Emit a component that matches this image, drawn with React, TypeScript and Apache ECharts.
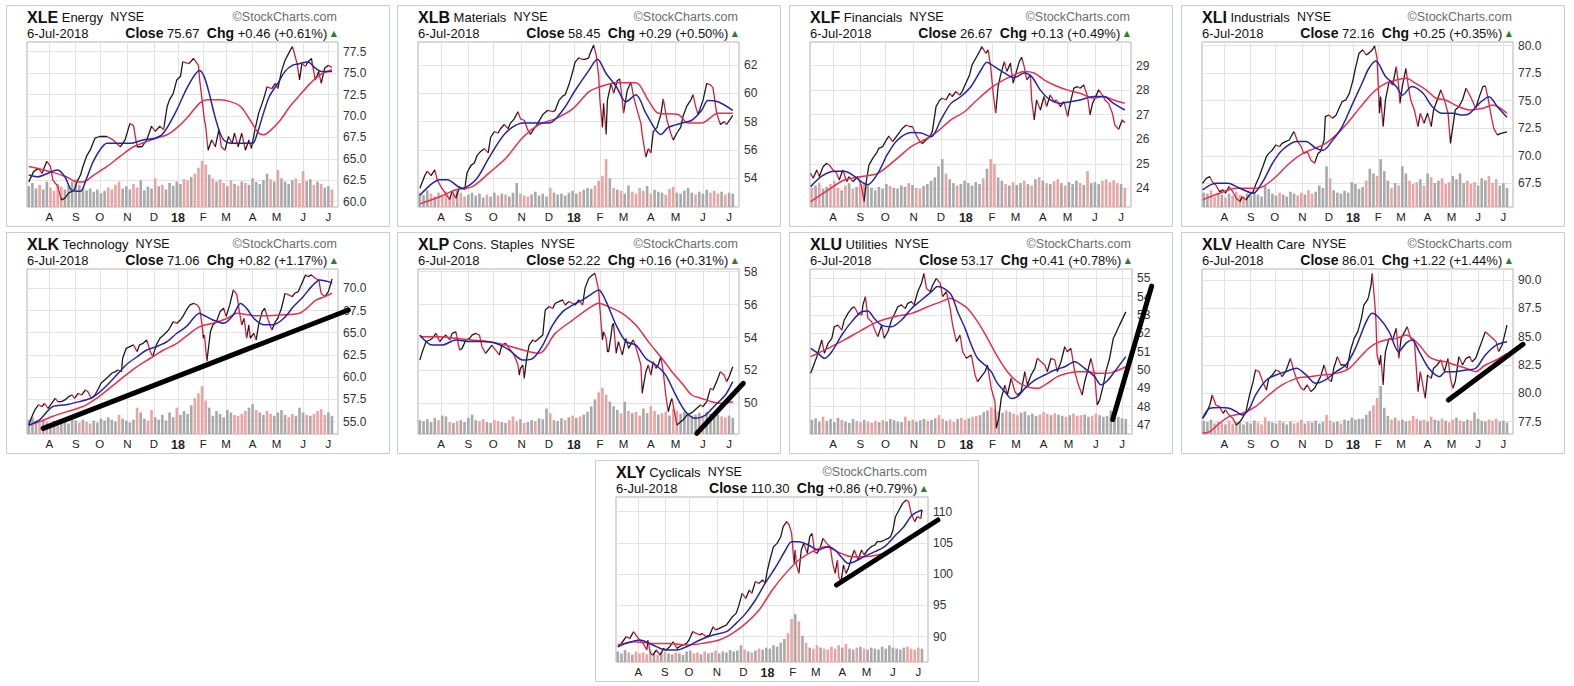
import React, { useEffect, useRef } from "react";
import * as echarts from "echarts";

type Pt = [number, number];

// ---- x axis: trading-day index (0 = 7-Jul-2017, 252 = 6-Jul-2018) ----
const MONTH_DAYS = [17, 39, 59, 82, 104, 124, 145, 164, 186, 206, 228, 249];
const MONTH_LABELS = ["A", "S", "O", "N", "D", "18", "F", "M", "A", "M", "J", "J"];
const VOL_STEP = 3; // volume sampled every 3 trading days

// ---------------- XLE ----------------
const XLE_PRICE: Pt[] = [[0,62.3],[4,63.5],[8,63.9],[11,63.3],[15,64.7],[18,64.1],[20,62.5],[24,61.8],[27,60.2],[30,60.4],[33,61.0],[36,61.2],[38,61.4],[40,62.3],[43,63.1],[45,64.1],[48,65.3],[51,66.0],[55,67.4],[59,67.6],[65,67.6],[70,67.2],[76,66.4],[80,67.2],[84,69.1],[87,68.9],[90,66.4],[94,66.4],[98,67.2],[102,68.8],[105,68.2],[109,68.8],[112,68.4],[115,71.1],[117,71.9],[120,72.6],[123,74.2],[126,74.6],[128,76.3],[133,76.1],[137,76.7],[141,75.9],[142,74.2],[144,71.9],[146,69.5],[147,68.8],[149,66.0],[152,67.2],[155,66.4],[158,68.4],[160,66.4],[163,66.0],[166,67.6],[169,66.8],[171,68.0],[174,66.4],[177,68.0],[180,66.0],[183,67.2],[185,66.2],[188,68.4],[191,70.3],[195,71.9],[198,73.4],[202,73.2],[205,73.8],[207,73.2],[210,75.2],[213,76.5],[216,77.3],[219,78.1],[220,77.7],[223,76.1],[225,74.2],[227,76.1],[230,75.8],[232,76.3],[235,76.7],[238,74.2],[241,75.2],[243,73.8],[246,75.6],[249,75.9],[252,75.67]];
const XLE_MA20: Pt[] = [[0,63.1],[7,62.9],[24,63.7],[30,62.9],[35,61.4],[40,61.2],[43,61.2],[48,62.7],[53,64.5],[59,66.0],[65,66.8],[75,66.8],[84,66.8],[95,67.2],[105,67.4],[112,68.0],[123,70.7],[132,73.4],[142,75.3],[146,74.5],[150,72.6],[154,70.3],[158,68.4],[162,67.2],[170,66.8],[180,66.8],[186,66.8],[190,68.0],[195,70.3],[200,72.3],[207,73.8],[213,75.2],[219,75.9],[225,76.1],[232,76.3],[238,75.6],[243,75.2],[252,75.2]];
const XLE_MA50: Pt[] = [[0,64.1],[18,63.5],[31,62.9],[40,62.3],[45,62.3],[54,63.1],[65,64.1],[76,65.3],[87,66.4],[98,67.0],[106,67.4],[115,67.8],[123,68.6],[131,69.7],[142,71.5],[148,71.9],[159,71.9],[167,71.7],[176,71.1],[184,69.5],[191,68.0],[195,67.8],[200,68.2],[209,69.5],[217,71.1],[225,72.4],[234,73.8],[242,74.8],[252,75.4]];
const XLE_VOL = [45,52,40,48,38,55,42,35,50,44,38,46,55,60,48,42,36,40,33,38,30,35,42,38,48,55,40,45,38,50,42,58,36,44,40,62,45,48,38,52,46,55,50,60,58,65,72,85,100,92,70,62,55,60,52,45,58,50,46,55,52,48,62,54,50,58,72,60,55,80,62,55,50,58,62,52,78,56,60,48,55,50,42,45,38];
const XLE_RANGE = [59.37, 78.63];
const XLE_TICKS = [60, 62.5, 65, 67.5, 70, 72.5, 75, 77.5];

// ---------------- XLB ----------------
const XLB_PRICE: Pt[] = [[0,53.3],[4,54.2],[6,54.5],[9,54.2],[12,54.6],[14,53.9],[17,53.4],[21,52.9],[24,52.5],[26,53.1],[29,52.6],[32,53.4],[36,53.2],[38,54.4],[41,54.9],[44,55.1],[46,55.6],[49,55.9],[52,56.1],[55,55.8],[57,56.9],[60,57.3],[63,57.2],[65,57.5],[68,57.8],[71,57.5],[73,57.9],[76,58.2],[79,58.7],[81,58.2],[84,58.1],[87,57.4],[89,57.1],[92,57.5],[95,57.9],[99,58.5],[103,58.8],[107,58.7],[109,58.8],[112,59.5],[115,59.8],[117,59.9],[120,60.6],[123,61.5],[125,62.2],[128,62.5],[131,62.4],[133,62.4],[136,62.5],[137,62.8],[140,63.4],[142,62.7],[144,61.2],[145,59.5],[147,57.6],[148,59.3],[150,57.1],[151,59.5],[154,60.7],[156,60.0],[159,60.9],[161,61.0],[163,59.5],[164,58.6],[167,60.2],[170,60.8],[172,59.8],[175,58.8],[178,57.9],[179,57.1],[182,55.5],[184,56.1],[186,55.8],[188,57.3],[191,57.6],[194,58.5],[196,59.6],[199,58.1],[202,57.2],[204,56.7],[207,57.2],[210,57.6],[212,58.4],[215,59.1],[218,59.5],[220,59.9],[222,59.1],[224,58.5],[228,59.5],[231,60.7],[234,60.6],[236,60.4],[239,58.6],[242,57.8],[245,58.0],[247,57.8],[252,58.45]];
const XLB_MA20: Pt[] = [[0,52.8],[16,53.9],[22,53.9],[34,53.3],[45,53.9],[56,55.5],[69,57.2],[83,57.9],[93,57.9],[104,57.9],[115,58.8],[125,60.2],[136,61.6],[143,62.4],[150,61.4],[158,60.5],[166,59.4],[174,59.9],[182,58.6],[190,57.4],[194,57.1],[200,57.6],[211,57.9],[219,58.1],[227,58.8],[232,59.5],[240,59.4],[252,58.8]];
const XLB_MA50: Pt[] = [[0,52.2],[16,52.7],[29,53.2],[42,53.4],[56,54.4],[69,55.4],[83,56.9],[96,57.8],[109,58.2],[123,58.9],[136,60.1],[143,60.4],[158,60.75],[174,60.75],[184,59.5],[192,58.6],[208,58.5],[216,57.9],[227,57.9],[240,58.6],[252,58.6]];
const XLB_VOL = [30,25,35,28,22,30,26,32,24,28,35,30,22,26,30,24,28,20,26,22,30,24,28,26,22,30,50,28,24,22,26,32,24,28,22,40,30,26,28,24,30,34,28,32,36,40,38,45,55,65,100,60,40,36,34,28,45,32,28,40,34,44,28,36,32,30,26,38,42,30,28,34,40,30,26,32,28,36,30,34,28,32,26,30,28];
const XLB_RANGE = [51.98, 63.62];
const XLB_TICKS = [54, 56, 58, 60, 62];

// ---------------- XLF ----------------
const XLF_PRICE: Pt[] = [[-1,24.61],[1,24.41],[4,24.75],[6,24.48],[9,24.88],[12,25.02],[14,24.95],[17,24.75],[20,24.61],[22,24.34],[25,24.75],[28,24.27],[30,24.48],[33,24.27],[37,24.48],[40,24.07],[42,23.46],[44,24.34],[46,24.95],[49,25.22],[52,25.43],[54,25.63],[57,25.7],[60,25.97],[62,26.13],[65,25.9],[68,26.11],[71,26.31],[73,26.45],[76,26.58],[79,26.51],[81,26.51],[84,26.17],[87,25.9],[89,25.83],[92,25.97],[95,26.11],[97,26.31],[100,27.33],[103,27.6],[105,27.67],[108,27.6],[111,27.87],[113,27.74],[116,27.94],[119,27.8],[121,27.94],[124,28.28],[127,28.62],[129,29.03],[132,29.3],[135,29.57],[137,29.77],[140,29.5],[142,29.64],[144,28.96],[146,27.87],[148,27.06],[150,28.14],[152,28.62],[155,29.16],[157,28.76],[160,29.1],[162,28.28],[164,28.62],[167,29.16],[169,29.34],[171,28.96],[173,28.42],[176,28.62],[177,27.6],[179,26.79],[181,27.6],[184,27.19],[187,27.74],[189,27.33],[192,27.8],[195,27.53],[197,27.6],[200,27.33],[203,27.53],[206,26.92],[208,27.46],[211,28.08],[214,28.14],[216,28.08],[219,28.21],[222,27.74],[224,26.99],[226,27.46],[228,27.67],[231,28.01],[234,27.8],[236,27.6],[239,27.46],[242,27.06],[244,26.58],[247,26.4],[250,26.79],[252,26.67]];
const XLF_MA20: Pt[] = [[-1,24.07],[8,24.5],[18,24.7],[26,24.7],[42,24.2],[45,24.15],[53,24.6],[61,25.4],[69,25.97],[80,26.27],[88,26.25],[96,26.1],[104,26.8],[112,27.46],[120,27.74],[128,28.14],[136,28.8],[141,29.14],[147,28.96],[155,28.7],[163,28.5],[171,28.7],[177,28.55],[184,28.0],[192,27.6],[200,27.46],[208,27.53],[216,27.6],[227,27.74],[235,27.74],[243,27.46],[252,27.19]];
const XLF_MA50: Pt[] = [[-1,23.46],[13,23.93],[26,24.34],[40,24.48],[53,24.61],[67,25.15],[80,25.7],[93,26.04],[101,26.31],[112,26.79],[123,27.12],[133,27.6],[144,28.08],[152,28.35],[160,28.55],[171,28.76],[179,28.7],[187,28.42],[195,28.21],[206,28.0],[216,27.87],[227,27.67],[235,27.74],[243,27.6],[252,27.46]];
const XLF_VOL = [40,45,50,38,42,48,55,40,35,45,50,38,42,48,52,45,40,35,42,38,48,44,40,38,45,42,50,46,40,38,44,48,55,62,85,100,70,58,50,45,48,55,50,45,52,48,60,80,100,90,62,55,48,45,52,46,50,55,48,45,58,62,55,50,48,54,58,50,45,52,48,55,50,46,75,50,52,48,55,58,52,56,50,48,40];
const XLF_RANGE = [23.24, 29.96];
const XLF_TICKS = [24, 25, 26, 27, 28, 29];

// ---------------- XLI ----------------
const XLI_PRICE: Pt[] = [[-1,67.5],[2,67.95],[5,68.1],[7,67.65],[10,67.35],[13,66.74],[16,66.9],[18,66.6],[21,67.2],[24,66.74],[27,66.14],[30,65.84],[32,66.29],[35,65.99],[38,66.44],[41,66.74],[43,67.35],[46,68.1],[49,69.0],[52,69.92],[54,70.22],[57,70.53],[60,70.98],[63,70.83],[65,71.13],[68,71.28],[71,71.43],[74,72.04],[75,72.19],[78,71.28],[81,70.83],[83,70.22],[86,70.38],[89,69.62],[92,69.32],[95,70.22],[97,70.38],[100,71.43],[101,73.55],[104,73.7],[107,73.4],[110,73.7],[113,74.46],[115,74.92],[118,75.07],[121,75.67],[124,76.88],[126,77.94],[129,79.3],[132,79.61],[135,79.15],[137,79.3],[140,79.61],[142,79.97],[144,78.85],[145,76.28],[146,73.86],[147,75.37],[149,72.65],[151,75.07],[154,76.73],[157,76.43],[160,78.09],[162,76.28],[163,74.76],[165,76.28],[168,77.94],[170,76.28],[172,75.07],[175,74.16],[178,72.65],[180,73.86],[183,72.95],[186,73.86],[189,72.65],[191,74.16],[194,75.07],[197,75.97],[200,75.07],[203,73.86],[205,71.13],[207,72.65],[209,74.16],[212,74.46],[215,75.07],[218,76.13],[221,75.52],[223,75.07],[226,74.31],[229,75.37],[232,76.28],[234,76.34],[236,75.37],[239,73.55],[241,72.49],[244,71.89],[247,72.04],[252,72.16]];
const XLI_MA20: Pt[] = [[-1,66.9],[10,67.5],[20,67.5],[30,67.05],[41,66.6],[49,67.65],[57,69.3],[65,70.5],[77,71.3],[85,71.3],[93,70.7],[99,70.5],[107,71.4],[115,72.65],[124,74.8],[132,76.7],[137,77.9],[143,78.6],[151,77.2],[160,76.3],[165,75.5],[173,76.3],[182,75.7],[190,74.46],[198,73.86],[207,73.86],[215,73.7],[221,73.86],[229,74.76],[237,75.37],[244,74.46],[252,73.5]];
const XLI_MA50: Pt[] = [[-1,66.0],[13,66.6],[27,67.05],[41,67.05],[49,67.2],[60,68.1],[71,69.3],[82,70.2],[93,70.7],[101,71.1],[110,71.9],[118,72.8],[126,73.86],[135,75.07],[143,75.97],[151,76.58],[160,76.88],[168,77.03],[176,76.58],[185,75.97],[193,75.22],[201,75.07],[209,74.6],[221,74.16],[232,74.31],[240,74.6],[252,73.86]];
const XLI_VOL = [30,28,35,22,30,26,20,28,24,32,26,22,28,24,30,26,22,45,38,28,24,30,26,22,32,28,24,30,26,35,28,32,45,40,85,60,35,30,28,34,30,52,48,38,42,55,80,70,65,100,75,55,40,50,45,85,70,55,48,52,58,45,70,62,50,55,60,48,52,65,58,70,50,55,48,52,45,60,56,65,50,58,45,50,40];
const XLI_RANGE = [65.35, 80.33];
const XLI_TICKS = [67.5, 70, 72.5, 75, 77.5, 80];

// ---------------- XLK ----------------
const XLK_PRICE: Pt[] = [[0,54.63],[2,55.38],[5,56.31],[8,56.88],[11,56.69],[13,57.06],[16,56.5],[19,57.06],[22,57.63],[24,57.25],[27,57.25],[30,57.44],[33,57.81],[36,58.0],[38,57.63],[41,58.19],[44,58.0],[47,58.56],[49,58.38],[52,57.63],[55,58.0],[58,58.75],[60,59.31],[63,59.69],[66,60.06],[69,60.44],[72,60.63],[74,60.81],[77,60.63],[78,62.13],[81,63.25],[84,63.44],[87,63.63],[90,62.88],[92,63.63],[95,63.81],[98,64.19],[101,62.88],[103,62.31],[106,63.63],[109,64.38],[112,64.75],[115,65.13],[117,65.5],[120,66.25],[123,66.06],[126,66.44],[128,66.81],[131,67.56],[134,68.13],[137,68.31],[140,68.13],[142,67.75],[144,65.88],[145,64.38],[146,64.75],[148,61.8],[151,65.13],[153,65.88],[156,66.25],[159,67.38],[162,67.75],[164,66.81],[167,68.13],[170,69.81],[173,69.25],[175,67.38],[177,65.88],[179,66.63],[181,64.38],[183,65.88],[184,64.38],[187,64.94],[189,64.19],[191,65.88],[194,67.38],[196,67.75],[199,66.44],[202,65.31],[205,66.25],[207,66.63],[210,67.75],[213,69.44],[216,69.25],[219,69.06],[221,69.44],[224,69.63],[227,70.56],[230,71.5],[232,71.31],[235,71.5],[238,71.13],[241,70.94],[243,69.44],[246,69.06],[249,69.63],[251,70.56],[252,71.06]];
const XLK_MA20: Pt[] = [[0,54.6],[9,55.2],[15,56.1],[20,56.7],[31,56.9],[42,57.25],[51,57.6],[56,58.0],[65,59.1],[73,60.25],[81,61.4],[90,62.3],[98,63.06],[106,63.44],[115,64.0],[123,64.94],[131,65.7],[142,67.2],[145,67.0],[153,66.44],[162,66.06],[170,67.0],[176,68.3],[181,67.75],[187,66.63],[195,65.9],[203,65.9],[212,66.63],[220,67.94],[228,69.06],[235,70.19],[242,70.94],[249,70.75],[252,70.56]];
const XLK_MA50: Pt[] = [[0,54.6],[9,55.0],[20,55.6],[31,56.1],[45,56.7],[56,57.6],[67,58.75],[79,60.06],[90,61.19],[101,62.13],[112,63.06],[123,63.81],[134,64.94],[142,65.69],[153,66.06],[165,66.63],[173,67.19],[189,66.9],[209,67.0],[225,67.19],[231,67.75],[239,68.69],[246,69.06],[252,69.44]];
const XLK_VOL = [30,35,28,24,30,26,22,28,25,30,26,22,35,28,24,30,25,22,28,24,32,28,35,30,26,40,32,28,24,30,55,45,32,28,50,35,30,40,28,45,35,55,40,48,42,60,75,85,100,70,55,38,48,42,35,50,45,40,38,42,48,55,62,50,45,40,48,42,38,45,50,40,35,42,38,55,45,40,38,42,48,52,40,45,38];
const XLK_TREND: Pt[] = [[12,54.25],[265.6,67.56]];
const XLK_RANGE = [53.61, 72.17];
const XLK_TICKS = [55, 57.5, 60, 62.5, 65, 67.5, 70];

// ---------------- XLP ----------------
const XLP_PRICE: Pt[] = [[0,52.63],[2,53.14],[5,53.75],[8,53.85],[10,53.95],[13,54.25],[16,53.75],[18,53.95],[21,54.15],[24,53.85],[26,54.25],[29,54.35],[32,53.24],[34,53.34],[37,53.85],[40,53.95],[42,54.15],[45,54.25],[48,54.15],[50,53.44],[53,53.04],[56,53.34],[58,53.54],[61,53.24],[64,52.94],[66,53.54],[69,53.65],[72,53.34],[75,53.04],[77,52.73],[79,52.33],[80,51.72],[81,52.13],[83,52.33],[84,51.52],[86,52.73],[88,53.54],[91,53.85],[93,53.75],[96,53.95],[99,54.15],[100,54.96],[101,55.67],[104,55.87],[107,55.77],[109,56.08],[112,56.18],[115,56.28],[117,55.97],[120,56.18],[123,56.08],[125,55.97],[128,56.28],[131,55.97],[133,56.99],[136,57.59],[139,57.8],[141,57.9],[144,56.89],[145,55.77],[147,53.85],[148,54.35],[150,53.95],[151,53.14],[152,53.14],[154,54.15],[155,54.76],[156,54.86],[158,53.04],[160,53.75],[163,52.94],[166,53.95],[168,53.34],[171,53.75],[172,53.85],[175,53.14],[178,52.33],[179,50.61],[182,51.92],[184,52.33],[186,51.72],[188,52.53],[190,52.13],[192,52.33],[194,52.84],[196,51.92],[198,50.51],[200,49.49],[202,50.1],[203,50.3],[205,49.49],[207,48.68],[210,48.89],[212,48.99],[215,49.29],[218,49.39],[220,49.49],[223,49.7],[226,49.9],[228,49.8],[231,50.1],[234,50.91],[236,50.81],[239,51.32],[242,51.92],[245,51.72],[247,51.32],[249,51.62],[252,52.22]];
const XLP_MA20: Pt[] = [[0,54.15],[10,53.54],[18,53.54],[29,53.85],[40,53.75],[50,53.75],[61,53.65],[72,53.24],[83,52.63],[91,52.73],[99,53.54],[107,54.76],[115,55.57],[123,55.97],[131,56.28],[139,56.68],[144,56.89],[150,56.18],[158,54.76],[166,53.75],[174,53.54],[182,52.73],[190,52.33],[198,51.72],[206,50.51],[214,49.49],[222,49.09],[230,49.29],[238,49.9],[246,50.51],[252,51.32]];
const XLP_MA50: Pt[] = [[0,54.05],[16,54.05],[29,53.95],[42,53.85],[56,53.75],[69,53.54],[83,53.24],[96,53.04],[109,54.25],[123,55.06],[136,55.77],[144,56.08],[152,55.87],[163,55.47],[174,54.76],[184,53.75],[195,52.73],[203,51.92],[211,51.22],[219,50.51],[227,50.3],[235,50.1],[243,50.0],[252,50.1]];
const XLP_VOL = [30,28,32,26,35,30,40,38,26,24,28,30,26,35,42,30,28,32,26,24,30,28,26,24,30,38,28,32,24,26,30,28,34,32,55,45,30,28,34,30,36,40,35,38,42,48,60,75,90,100,85,70,60,52,45,70,50,45,48,40,55,45,60,50,42,45,48,40,55,50,44,48,45,40,42,46,38,48,44,40,42,38,36,40,35];
const XLP_TREND: Pt[] = [[223,48.18],[260.5,51.22]];
const XLP_RANGE = [48.14, 58.16];
const XLP_TICKS = [50, 52, 54, 56, 58];

// ---------------- XLU ----------------
const XLU_PRICE: Pt[] = [[-1,49.82],[1,50.18],[4,50.73],[8,51.64],[10,50.91],[13,51.45],[16,51.73],[18,52.36],[21,52.45],[24,52.18],[26,52.73],[29,53.09],[32,53.36],[34,53.45],[37,53.09],[40,53.0],[41,53.55],[43,54.0],[45,52.82],[48,52.64],[50,52.27],[53,51.82],[56,52.45],[58,51.73],[61,52.09],[64,52.73],[66,53.0],[69,53.45],[72,53.55],[75,53.36],[77,53.64],[80,53.73],[82,53.55],[85,54.27],[88,54.73],[90,55.27],[92,54.45],[95,54.27],[97,54.64],[100,55.0],[103,54.73],[105,54.0],[108,54.27],[111,53.36],[113,52.45],[116,51.55],[119,51.91],[121,51.0],[124,50.64],[128,50.82],[131,49.73],[133,49.36],[136,49.64],[139,49.91],[141,50.27],[144,49.0],[147,48.27],[148,46.82],[150,47.36],[152,48.45],[155,49.18],[157,48.64],[160,49.55],[163,48.82],[165,48.64],[168,48.82],[171,49.91],[173,49.18],[176,49.73],[179,50.09],[181,50.64],[184,50.45],[187,50.27],[189,49.91],[192,50.64],[195,50.55],[197,49.91],[200,50.45],[203,51.27],[205,51.0],[208,51.18],[211,49.91],[214,49.18],[217,48.64],[219,49.36],[222,50.09],[224,50.64],[227,49.73],[229,48.09],[231,48.36],[234,49.18],[236,49.91],[239,50.64],[242,51.73],[244,52.0],[247,52.45],[252,53.17]];
const XLU_MA20: Pt[] = [[-1,51.18],[5,50.91],[10,50.64],[16,51.0],[24,51.91],[32,52.64],[40,53.18],[45,53.22],[50,52.82],[56,52.45],[64,52.36],[72,52.73],[80,53.36],[88,53.82],[96,54.27],[101,54.55],[106,54.45],[112,54.09],[117,53.18],[123,52.27],[128,51.36],[133,50.64],[139,50.27],[144,49.91],[149,49.27],[155,48.82],[160,48.45],[165,48.55],[171,49.0],[179,49.45],[187,49.73],[195,50.0],[203,50.18],[211,50.45],[219,50.09],[227,49.64],[232,49.2],[237,49.4],[243,49.91],[252,50.73]];
const XLU_MA50: Pt[] = [[-1,50.73],[13,51.18],[26,51.64],[40,52.18],[53,52.64],[66,52.91],[80,53.09],[93,53.45],[104,53.73],[111,53.91],[117,53.73],[125,53.36],[133,52.64],[141,51.73],[149,50.73],[157,49.91],[165,49.36],[173,49.09],[181,49.0],[189,49.27],[197,49.64],[205,49.82],[213,49.91],[221,49.91],[229,49.82],[237,49.82],[243,49.91],[252,50.18]];
const XLU_VOL = [45,50,40,55,42,48,38,52,45,40,35,48,42,38,45,40,36,42,38,45,40,48,44,40,38,55,42,46,40,44,48,42,45,50,60,48,42,46,40,48,52,45,50,55,58,60,70,75,85,80,72,68,75,70,65,60,68,72,60,65,58,62,70,64,60,66,62,58,55,60,65,58,60,62,55,58,65,60,55,58,75,60,55,50,48];
const XLU_TREND: Pt[] = [[241.5,47.3],[272.8,54.58]];
const XLU_RANGE = [46.51, 55.51];
const XLU_TICKS = [47, 48, 49, 50, 51, 52, 53, 54, 55];

// ---------------- XLV ----------------
const XLV_PRICE: Pt[] = [[-1,77.79],[2,78.24],[5,78.97],[7,79.85],[10,78.97],[13,78.82],[16,78.24],[18,78.53],[21,78.09],[24,77.79],[27,77.21],[30,77.5],[32,77.79],[35,78.38],[38,79.85],[41,81.03],[43,82.06],[46,81.91],[49,81.03],[52,80.29],[54,81.32],[57,81.62],[60,82.06],[63,81.91],[65,81.47],[68,81.91],[71,82.79],[72,83.09],[75,81.91],[78,81.03],[81,80.44],[83,80.29],[86,80.74],[89,80.15],[92,80.44],[95,81.03],[97,81.47],[100,82.5],[103,81.32],[106,81.03],[108,82.21],[111,83.24],[114,82.5],[117,82.5],[119,82.21],[122,83.82],[125,84.85],[128,85.44],[131,86.62],[133,87.79],[136,88.24],[137,88.53],[139,89.56],[140,90.59],[142,88.09],[143,86.62],[144,83.38],[146,82.5],[147,83.38],[149,80.74],[150,82.5],[151,83.68],[154,84.85],[157,84.71],[160,85.74],[162,83.09],[164,84.85],[167,85.44],[169,85.88],[172,84.85],[175,84.71],[178,80.15],[180,81.91],[182,80.74],[184,79.56],[186,81.62],[189,81.32],[191,82.21],[194,82.5],[197,82.94],[200,81.91],[203,83.09],[205,81.32],[207,80.44],[209,81.03],[212,83.24],[215,82.5],[218,83.09],[221,83.24],[223,82.79],[226,83.09],[229,83.97],[232,84.85],[234,85.44],[237,85.15],[240,84.85],[243,84.56],[245,83.68],[248,84.26],[252,86.01]];
const XLV_MA20: Pt[] = [[-1,77.79],[5,78.68],[13,78.74],[21,78.68],[27,78.38],[32,78.09],[38,78.68],[43,79.85],[52,81.18],[60,81.62],[68,81.91],[77,82.21],[85,81.62],[93,80.88],[101,81.18],[110,81.91],[118,82.5],[126,83.97],[135,86.32],[140,87.06],[146,86.62],[154,85.44],[162,83.68],[168,84.41],[173,84.71],[179,83.68],[187,82.21],[196,81.47],[201,81.91],[209,81.91],[218,82.06],[226,82.21],[234,83.38],[243,84.26],[252,84.56]];
const XLV_MA50: Pt[] = [[-1,76.47],[5,76.62],[13,77.35],[21,77.94],[32,78.24],[43,78.82],[54,79.85],[65,80.74],[77,81.32],[88,81.47],[99,81.62],[110,81.76],[121,82.21],[129,83.09],[137,83.97],[143,84.41],[151,84.71],[160,84.85],[168,85.15],[179,84.26],[187,83.24],[193,82.94],[201,82.79],[209,82.5],[218,82.21],[226,81.91],[234,82.5],[243,82.94],[252,83.53]];
const XLV_VOL = [28,25,30,22,26,24,20,28,22,26,24,20,25,22,28,24,20,35,26,24,22,28,24,20,26,22,24,30,22,26,24,28,22,25,40,28,24,26,22,30,28,34,30,32,32,40,48,60,75,100,55,38,30,34,28,30,26,28,38,32,28,30,26,36,30,28,32,28,24,30,34,28,26,30,28,45,32,28,26,30,28,32,26,28,24];
const XLV_TREND: Pt[] = [[203.3,79.41],[265.3,84.32]];
const XLV_RANGE = [76.41, 90.97];
const XLV_TICKS = [77.5, 80, 82.5, 85, 87.5, 90];

// ---------------- XLY ----------------
const XLY_PRICE: Pt[] = [[0,88.4],[2,88.67],[5,89.47],[7,90.0],[10,89.73],[13,90.8],[16,90.0],[18,89.47],[21,88.93],[24,87.87],[25,89.47],[27,87.33],[29,87.07],[32,87.87],[35,87.07],[38,88.13],[40,87.87],[43,88.4],[46,89.2],[49,88.13],[51,88.4],[54,88.67],[57,88.93],[59,89.47],[62,90.8],[65,90.53],[68,90.27],[70,90.53],[73,90.0],[76,90.27],[79,91.6],[81,91.07],[84,91.33],[87,91.6],[90,91.87],[92,92.4],[95,93.2],[98,93.73],[100,94.8],[103,96.93],[106,96.13],[109,97.47],[111,96.93],[114,98.8],[117,98.53],[120,99.07],[122,98.53],[124,100.67],[126,102.27],[129,104.4],[132,104.93],[135,106.0],[137,107.6],[140,108.4],[142,107.87],[144,106.53],[146,101.73],[147,103.87],[148,101.47],[150,100.13],[152,103.87],[154,104.93],[157,103.33],[159,106.0],[161,106.53],[163,103.6],[165,103.33],[168,104.4],[170,105.73],[173,104.93],[176,104.4],[178,101.73],[180,100.13],[182,102.27],[183,99.6],[185,98.8],[187,101.47],[189,100.13],[191,100.93],[194,102.8],[196,103.87],[199,102.27],[202,103.87],[204,103.07],[207,103.87],[210,104.4],[213,104.67],[215,105.2],[218,105.2],[221,105.47],[224,105.73],[226,106.0],[228,107.07],[230,109.2],[233,110.27],[236,111.33],[239,111.87],[241,111.6],[243,109.73],[246,108.4],[248,109.2],[251,108.93],[252,110.3]];
const XLY_MA20: Pt[] = [[0,88.4],[7,88.93],[18,89.47],[29,88.67],[40,87.87],[49,87.87],[57,88.4],[68,89.47],[79,90.27],[90,90.8],[98,92.13],[106,93.73],[114,95.87],[122,98.53],[131,101.2],[139,103.87],[144,105.2],[150,105.2],[158,104.67],[166,103.87],[174,104.4],[180,103.87],[185,102.8],[191,101.73],[196,102.0],[204,102.8],[213,103.6],[221,104.4],[229,106.0],[237,107.6],[244,109.47],[252,110.27]];
const XLY_MA50: Pt[] = [[0,88.67],[13,89.2],[29,88.93],[43,88.93],[57,88.67],[70,88.93],[84,89.47],[95,90.53],[106,92.13],[117,94.27],[128,97.47],[139,100.13],[150,102.27],[161,103.6],[172,104.4],[185,103.33],[194,102.8],[204,102.8],[215,103.07],[224,103.6],[232,104.4],[240,105.73],[252,106.8]];
const XLY_VOL = [22,18,25,20,15,22,18,20,16,24,18,15,20,22,18,16,20,18,15,22,24,18,20,16,22,18,20,24,18,22,20,25,22,24,35,26,22,20,24,28,26,30,28,35,32,40,48,60,90,100,85,55,40,30,28,35,30,28,26,32,28,35,30,38,28,26,30,32,28,26,30,28,26,32,28,35,30,28,26,30,32,28,26,30,28];
const XLY_TREND: Pt[] = [[181.2,98.27],[265.2,108.67]];
const XLY_RANGE = [85.95, 112.35];
const XLY_TICKS = [90, 95, 100, 105, 110];

// ---------------- panel definitions ----------------
const PANELS = [
  { sym: "XLE", name: "Energy", close: "75.67", chg: "+0.46", pct: "(+0.61%)", price: XLE_PRICE, ma20: XLE_MA20, ma50: XLE_MA50, vol: XLE_VOL, trend: null, range: XLE_RANGE, ticks: XLE_TICKS, dec: 1, volShare: 0.28 },
  { sym: "XLB", name: "Materials", close: "58.45", chg: "+0.29", pct: "(+0.50%)", price: XLB_PRICE, ma20: XLB_MA20, ma50: XLB_MA50, vol: XLB_VOL, trend: null, range: XLB_RANGE, ticks: XLB_TICKS, dec: 0, volShare: 0.29 },
  { sym: "XLF", name: "Financials", close: "26.67", chg: "+0.13", pct: "(+0.49%)", price: XLF_PRICE, ma20: XLF_MA20, ma50: XLF_MA50, vol: XLF_VOL, trend: null, range: XLF_RANGE, ticks: XLF_TICKS, dec: 0, volShare: 0.29 },
  { sym: "XLI", name: "Industrials", close: "72.16", chg: "+0.25", pct: "(+0.35%)", price: XLI_PRICE, ma20: XLI_MA20, ma50: XLI_MA50, vol: XLI_VOL, trend: null, range: XLI_RANGE, ticks: XLI_TICKS, dec: 1, volShare: 0.29 },
  { sym: "XLK", name: "Technology", close: "71.06", chg: "+0.82", pct: "(+1.17%)", price: XLK_PRICE, ma20: XLK_MA20, ma50: XLK_MA50, vol: XLK_VOL, trend: XLK_TREND, range: XLK_RANGE, ticks: XLK_TICKS, dec: 1, volShare: 0.29 },
  { sym: "XLP", name: "Cons. Staples", close: "52.22", chg: "+0.16", pct: "(+0.31%)", price: XLP_PRICE, ma20: XLP_MA20, ma50: XLP_MA50, vol: XLP_VOL, trend: XLP_TREND, range: XLP_RANGE, ticks: XLP_TICKS, dec: 0, volShare: 0.28 },
  { sym: "XLU", name: "Utilities", close: "53.17", chg: "+0.41", pct: "(+0.78%)", price: XLU_PRICE, ma20: XLU_MA20, ma50: XLU_MA50, vol: XLU_VOL, trend: XLU_TREND, range: XLU_RANGE, ticks: XLU_TICKS, dec: 0, volShare: 0.19 },
  { sym: "XLV", name: "Health Care", close: "86.01", chg: "+1.22", pct: "(+1.44%)", price: XLV_PRICE, ma20: XLV_MA20, ma50: XLV_MA50, vol: XLV_VOL, trend: XLV_TREND, range: XLV_RANGE, ticks: XLV_TICKS, dec: 1, volShare: 0.29 },
  { sym: "XLY", name: "Cyclicals", close: "110.30", chg: "+0.86", pct: "(+0.79%)", price: XLY_PRICE, ma20: XLY_MA20, ma50: XLY_MA50, vol: XLY_VOL, trend: XLY_TREND, range: XLY_RANGE, ticks: XLY_TICKS, dec: 0, volShare: 0.29 },
];

// layout (pixels)
const LAYOUT = [
  { left: 6, top: 5, plotW: 311 },
  { left: 397, top: 5, plotW: 321 },
  { left: 789, top: 5, plotW: 321 },
  { left: 1181, top: 5, plotW: 311 },
  { left: 6, top: 232, plotW: 311 },
  { left: 397, top: 232, plotW: 321 },
  { left: 789, top: 232, plotW: 322 },
  { left: 1181, top: 232, plotW: 311 },
  { left: 595, top: 460, plotW: 312 },
];

const X_MIN = -1.5;
const X_MAX = 257;
const TREND_EXTRA_PX = 60; // overlay grid reaches past the plot so trendlines can overhang

const FF = "'Liberation Sans', Arial, Helvetica, sans-serif";
const PRICE_RED = "#d61f3d";
const PRICE_BLACK = "#1a1a1a";
const MA_BLUE = "#2424a6";
const MA_RED = "#e5304e";
const VOL_RED = "#eba4a4";
const VOL_GRAY = "#a9a9a9";

function isDown(pts: Pt[], d: number): boolean {
  for (let i = 0; i < pts.length - 1; i++) {
    if (d >= pts[i][0] && d <= pts[i + 1][0]) return pts[i + 1][1] < pts[i][1];
  }
  return false;
}

function downPieces(pts: Pt[]) {
  const pieces: any[] = [];
  let start: number | null = null;
  for (let i = 0; i < pts.length - 1; i++) {
    const down = pts[i + 1][1] < pts[i][1];
    if (down) {
      if (start === null) start = pts[i][0];
    } else if (start !== null) {
      pieces.push({ gte: start, lte: pts[i][0], color: PRICE_RED });
      start = null;
    }
  }
  if (start !== null) pieces.push({ gte: start, lte: pts[pts.length - 1][0], color: PRICE_RED });
  return pieces;
}

function buildOption() {
  const grid: any[] = [];
  const xAxis: any[] = [];
  const yAxis: any[] = [];
  const series: any[] = [];
  const visualMap: any[] = [];
  const graphic: any[] = [];

  PANELS.forEach((p, k) => {
    const L = LAYOUT[k];
    const gx = L.left + 21;
    const gy = L.top + 37;
    const gh = 165;
    const plotRight = gx + L.plotW;

    const gi = grid.length;
    grid.push({
      left: gx, top: gy, width: L.plotW, height: gh,
      show: true, borderColor: "#b3b3b3", borderWidth: 1, backgroundColor: "#ffffff",
      containLabel: false, outerBoundsMode: "none",
    });
    const xi = xAxis.length;
    xAxis.push({
      gridIndex: gi, type: "value", min: X_MIN, max: X_MAX,
      axisLine: { show: false },
      axisTick: { show: false, customValues: MONTH_DAYS },
      axisLabel: {
        customValues: MONTH_DAYS,
        margin: 4,
        fontSize: 11.5,
        color: "#222",
        fontFamily: FF,
        formatter: (v: number) => {
          const i = MONTH_DAYS.indexOf(Math.round(v));
          const s = i >= 0 ? MONTH_LABELS[i] : "";
          return s === "18" ? "{b|18}" : s;
        },
        rich: { b: { fontWeight: "bold", fontSize: 12.5, color: "#222", fontFamily: FF } },
      },
      splitLine: { show: true, lineStyle: { color: "#e3e3e3", width: 1 } },
    });
    const yi = yAxis.length;
    yAxis.push({
      gridIndex: gi, type: "value", position: "right",
      min: p.range[0], max: p.range[1],
      axisLine: { show: false },
      axisTick: { show: false, customValues: p.ticks },
      axisLabel: {
        customValues: p.ticks, margin: 5, fontSize: 12, color: "#333", fontFamily: FF,
        formatter: (v: number) => v.toFixed(p.dec),
      },
      splitLine: { show: true, lineStyle: { color: "#e3e3e3", width: 1 } },
    });
    const vi = yAxis.length;
    yAxis.push({
      gridIndex: gi, type: "value", min: 0, max: 100 / p.volShare, show: false,
      splitLine: { show: false },
    });

    const volData = p.vol
      .map((v, i) => ({ d: i * VOL_STEP, v }))
      .filter((o) => o.d <= 252)
      .map((o) => ({
        value: [o.d, o.v],
        itemStyle: { color: isDown(p.price, o.d) ? VOL_RED : VOL_GRAY },
      }));
    series.push({
      type: "bar", xAxisIndex: xi, yAxisIndex: vi, barWidth: 2.6,
      data: volData, silent: true, z: 1,
    });

    const priceIdx = series.length;
    series.push({
      type: "line", xAxisIndex: xi, yAxisIndex: yi, data: p.price,
      symbol: "none", silent: true, z: 3,
      lineStyle: { width: 1.3 },
    });
    visualMap.push({
      type: "piecewise", show: false, seriesIndex: priceIdx, dimension: 0,
      pieces: downPieces(p.price), outOfRange: { color: PRICE_BLACK },
    });

    series.push({
      type: "line", xAxisIndex: xi, yAxisIndex: yi, data: p.ma50,
      symbol: "none", silent: true, z: 4, smooth: 0.3,
      lineStyle: { width: 1.5, color: MA_RED }, itemStyle: { color: MA_RED },
    });
    series.push({
      type: "line", xAxisIndex: xi, yAxisIndex: yi, data: p.ma20,
      symbol: "none", silent: true, z: 5, smooth: 0.3,
      lineStyle: { width: 1.5, color: MA_BLUE }, itemStyle: { color: MA_BLUE },
    });

    if (p.trend) {
      // transparent overlay grid with the same scale, extended to the right
      const ow = L.plotW + TREND_EXTRA_PX;
      const oMax = X_MIN + (X_MAX - X_MIN) * ow / L.plotW;
      const og = grid.length;
      grid.push({ left: gx, top: gy, width: ow, height: gh, show: false, containLabel: false, outerBoundsMode: "none" });
      const ox = xAxis.length;
      xAxis.push({ gridIndex: og, type: "value", min: X_MIN, max: oMax, show: false, splitLine: { show: false } });
      const oy = yAxis.length;
      yAxis.push({ gridIndex: og, type: "value", min: p.range[0], max: p.range[1], show: false, splitLine: { show: false } });
      series.push({
        type: "line", xAxisIndex: ox, yAxisIndex: oy, data: p.trend,
        symbol: "none", silent: true, z: 10, clip: false,
        lineStyle: { width: 5, color: "#000", cap: "round" }, itemStyle: { color: "#000" },
      });
    }

    // panel frame
    graphic.push({
      type: "rect", silent: true, z: 0,
      shape: { x: L.left + 0.5, y: L.top + 0.5, width: 383, height: 221 },
      style: { fill: "transparent", stroke: "#c7ccd4", lineWidth: 1 },
    });
    // title line
    graphic.push({
      type: "text", silent: true, x: gx, y: L.top + 12, z: 20,
      style: {
        text: `{t|${p.sym}} {n|${p.name}}  {s|NYSE}`,
        align: "left", verticalAlign: "middle",
        font: `13px ${FF}`,
        rich: {
          t: { font: `bold 16px ${FF}`, fill: "#111" },
          n: { font: `13px ${FF}`, fill: "#111" },
          s: { font: `12.5px ${FF}`, fill: "#111" },
        },
      },
    });
    graphic.push({
      type: "text", silent: true, x: plotRight - 1, y: L.top + 12, z: 20,
      style: {
        text: "©StockCharts.com", font: `12.5px ${FF}`, fill: "#6c6c6c",
        align: "right", verticalAlign: "middle",
      },
    });
    // date / close line
    graphic.push({
      type: "text", silent: true, x: gx, y: L.top + 28, z: 20,
      style: {
        text: "6-Jul-2018", font: `13px ${FF}`, fill: "#111",
        align: "left", verticalAlign: "middle",
      },
    });
    graphic.push({
      type: "text", silent: true, x: plotRight - 1, y: L.top + 28, z: 20,
      style: {
        text: `{b|Close} {n|${p.close}}  {b|Chg} {n|${p.chg} ${p.pct}} {g|▲}`,
        align: "right", verticalAlign: "middle",
        font: `13px ${FF}`,
        rich: {
          b: { font: `bold 14px ${FF}`, fill: "#111" },
          n: { font: `13px ${FF}`, fill: "#111" },
          g: { font: `8px 'DejaVu Sans', sans-serif`, fill: "#2e7d32" },
        },
      },
    });
  });

  return {
    animation: false,
    backgroundColor: "#ffffff",
    textStyle: { fontFamily: FF },
    grid, xAxis, yAxis, series, visualMap, graphic,
  };
}

export default function App() {
  const ref = useRef<HTMLDivElement>(null);
  useEffect(() => {
    if (!ref.current) return;
    const chart = echarts.init(ref.current, undefined, { renderer: "svg" });
    chart.setOption(buildOption() as any);
    return () => chart.dispose();
  }, []);
  return (
    <div
      ref={ref}
      style={{ position: "absolute", left: 0, top: 0, width: 1574, height: 686, background: "#fff" }}
    />
  );
}
